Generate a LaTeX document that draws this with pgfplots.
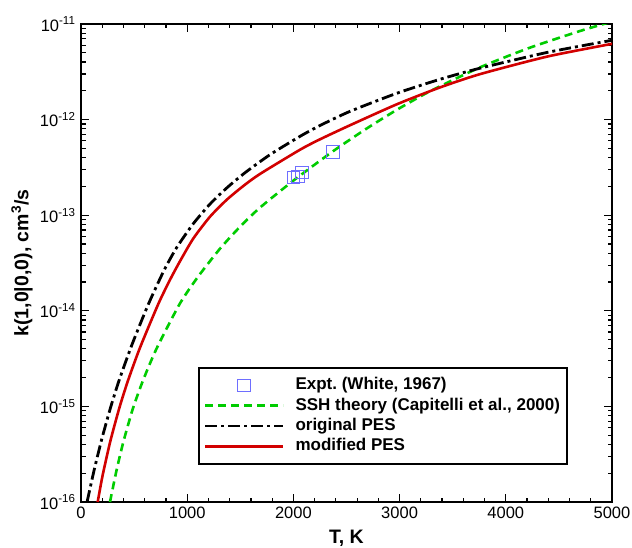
\documentclass[border=0pt]{standalone}
\usepackage{fontspec}
\setmainfont{Liberation Sans}
\usepackage{pgfplots}
\usepackage{pgfplotstable}
\pgfplotsset{compat=1.18}
\definecolor{expblue}{RGB}{110,110,255}
\definecolor{sshgreen}{RGB}{0,204,0}
\definecolor{modred}{RGB}{210,0,0}
\pgfplotsset{
  mylinelegend/.style={legend image code/.code={\draw[##1] (0bp,0bp) -- (78bp,0bp);}},
  mymarklegend/.style={legend image code/.code={\draw[##1] plot coordinates {(39bp,0bp)};}},
}

\pgfplotstableread{
T k
2000 2.49e-13
2045 2.55e-13
2078 2.80e-13
2370 4.61e-13
}\expt

\pgfplotstableread{
T k
273 1.00e-16
330 2.03e-16
395 4.10e-16
487 9.38e-16
584 1.87e-15
713 4.06e-15
931 1.19e-14
1104 2.29e-14
1309 4.47e-14
1497 7.57e-14
1685 1.20e-13
2006 2.33e-13
2373 4.67e-13
2693 8.11e-13
2976 1.27e-12
3286 1.98e-12
3757 3.52e-12
4228 5.66e-12
4699 8.45e-12
5000 1.06e-11
}\ssh

\pgfplotstableread{
T k
57 1.00e-16
125 2.19e-16
195 4.52e-16
276 9.53e-16
355 1.82e-15
477 4.34e-15
634 1.17e-14
782 2.65e-14
901 4.59e-14
1055 8.09e-14
1215 1.31e-13
1375 1.94e-13
1544 2.78e-13
1780 4.30e-13
2062 6.68e-13
2250 8.67e-13
2533 1.22e-12
2976 1.89e-12
3380 2.64e-12
3757 3.45e-12
4388 5.04e-12
4981 6.70e-12
5000 6.76e-12
}\orig

\pgfplotstableread{
T k
157 1.00e-16
204 1.91e-16
276 4.32e-16
361 9.64e-16
443 1.87e-15
556 4.13e-15
728 1.18e-14
838 2.11e-14
932 3.30e-14
1057 5.70e-14
1215 9.66e-14
1372 1.45e-13
1528 2.02e-13
1685 2.70e-13
2062 4.84e-13
2250 6.22e-13
2533 8.73e-13
2976 1.45e-12
3380 2.17e-12
3757 2.99e-12
4388 4.56e-12
4981 6.15e-12
5000 6.21e-12
}\modif

\begin{document}
\frenchspacing
\begin{tikzpicture}
\begin{axis}[
  scale only axis, width=531bp, height=478bp,
  xmin=0, xmax=5000, ymin=1e-16, ymax=1e-11, ymode=log,
  xtick={0,1000,2000,3000,4000,5000},
  xticklabels={0,1000,2000,3000,4000,5000},
  minor x tick num=4,
  ytick={1e-16,1e-15,1e-14,1e-13,1e-12,1e-11},
  yticklabels={10\textsuperscript{-16},10\textsuperscript{-15},10\textsuperscript{-14},10\textsuperscript{-13},10\textsuperscript{-12},10\textsuperscript{-11}},
  axis line style={line width=1.8bp},
  every tick/.style={black, line width=1.2bp},
  major tick length=8bp, minor tick length=4.5bp,
  tick label style={font=\fontsize{16.5bp}{20bp}\selectfont},
  xticklabel style={yshift=-1bp},
  yticklabel style={xshift=-2bp},
  xlabel={T, K}, ylabel={k(1,0|0,0), cm\textsuperscript{3}/s},
  label style={font=\bfseries\fontsize{19.5bp}{23bp}\selectfont},
  xlabel style={at={(axis description cs:0.5,-0.0753)}, anchor=center},
  ylabel style={at={(axis description cs:-0.111,0.5)}, anchor=center},
  legend style={at={(0.22,0.2824)}, anchor=north west, draw=black, line width=1.8bp,
    font=\bfseries\fontsize{17bp}{20bp}\selectfont,
    inner xsep=5bp, inner ysep=7.3bp, row sep=0bp, cells={anchor=west},
    nodes={inner xsep=2bp, inner ysep=1.65bp, text height=13bp, text depth=4bp},
    /tikz/every odd column/.append style={column sep=9bp}},
  clip=true,
]
\addplot[only marks, mark=square, mark size=6.3bp, mark options={draw=expblue, line width=0.8bp, fill=none},
  mymarklegend] table[x=T,y=k] {\expt};
\addlegendentry{Expt. (White, 1967)}
\addplot[sshgreen, line width=2.6bp, dash pattern=on 8bp off 5bp, no marks, smooth, tension=0.4, mylinelegend] table[x=T,y=k] {\ssh};
\addlegendentry{SSH theory (Capitelli et al., 2000)}
\addplot[black, line width=2.8bp, dash pattern=on 12bp off 4bp on 3bp off 4bp, no marks, smooth, tension=0.4, mylinelegend] table[x=T,y=k] {\orig};
\addlegendentry{original PES}
\addplot[modred, line width=2.6bp, no marks, smooth, tension=0.4, mylinelegend] table[x=T,y=k] {\modif};
\addlegendentry{modified PES}
\end{axis}
\pgfresetboundingbox
\path[use as bounding box] ([shift={(-81bp,-46bp)}]current axis.south west) rectangle ([shift={(20bp,24bp)}]current axis.north east);
\end{tikzpicture}
\end{document}
